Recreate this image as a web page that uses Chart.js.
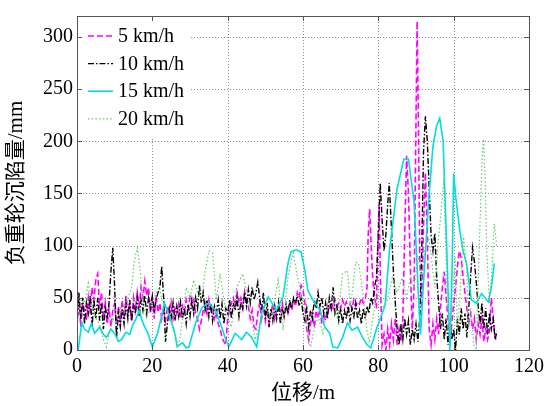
<!DOCTYPE html>
<html>
<head>
<meta charset="utf-8">
<script src="https://cdn.jsdelivr.net/npm/chart.js@4/dist/chart.umd.min.js"></script>
<style>
html,body{margin:0;padding:0;background:#fff;}
canvas{display:block;}
</style>
</head>
<body>
<canvas id="c" width="549" height="406"></canvas>
<script>
// ---- Data (displacement in m, sinkage in mm) ----
const seriesNames = ['5 km/h', '10 km/h', '15 km/h', '20 km/h'];
const xTicks = [0, 20, 40, 60, 80, 100, 120];
const yTicks = [0, 50, 100, 150, 200, 250, 300];

const x5 = [0,0.5,1,1.5,2,2.5,3,3.5,4,4.5,5,5.5,6,6.5,7,7.5,8,8.5,9,9.5,
10,10.5,11,11.5,12,12.5,13,13.5,14,14.5,15,15.5,16,16.5,17,17.5,18,18.5,19,19.5,
20,20.5,21,21.5,22,22.5,23,23.5,24,24.5,25,25.5,26,26.5,27,27.5,28,28.5,29,29.5,
30,30.5,31,31.5,32,32.5,33,33.5,34,34.5,35,35.5,36,36.5,37,37.5,38,38.5,39,39.5,
40,40.5,41,41.5,42,42.5,43,43.5,44,44.5,45,45.5,46,46.5,47,47.5,48,48.5,49,49.5,
50,50.5,51,51.5,52,52.5,53,53.5,54,54.5,55,55.5,56,56.5,57,57.5,58,58.5,59,59.5,
60,60.5,61,61.5,62,62.5,63,63.5,64,64.5,65,65.5,66,66.5,67,67.5,68,68.5,69,69.5,
70,70.5,71,71.5,72,72.5,73,73.5,74,74.5,75,75.5,76,76.5,77,77.3,77.7,78.1,78.5,79,79.5,79.8,80.2,80.6,81,
81.5,82,82.5,83,83.5,84,84.5,85,85.5,86,86.5,87,87.5,88,88.5,89,89.5,90,90.3,90.6,91,91.5,92,92.5,93,93.5,
94,94.5,95,95.5,96,96.5,97,97.5,98,98.5,99,99.5,100,100.5,101,101.5,102,102.5,103,103.5,
104,104.5,105,105.5,106,106.5,107,107.5,108,108.5,109,109.5,110,110.5,111,111.5];
const y5 = [30,52,22,45,38,28,50,35,60,48,68,73,40,55,30,45,25,40,22,38,
45,20,42,28,48,30,52,35,45,28,50,38,55,42,60,50,66,52,60,35,
48,30,52,36,45,30,40,28,42,32,45,30,40,35,44,30,42,36,48,40,
50,42,48,35,30,20,28,38,45,35,48,38,42,30,36,25,20,12,8,5,
30,38,45,50,42,55,45,50,40,56,48,42,30,38,22,20,35,45,30,42,
28,40,25,35,45,30,38,42,35,45,32,40,35,44,38,48,42,55,50,62,
58,45,20,10,25,35,22,38,30,40,25,35,28,42,38,46,40,48,42,45,
40,48,42,46,38,44,40,48,42,46,44,50,45,48,60,110,135,100,70,50,40,90,140,60,5,
15,0,20,5,25,10,30,5,20,8,30,110,186,150,80,20,60,220,315,230,90,40,120,170,110,20,
5,25,10,30,15,40,60,75,50,30,5,25,45,60,80,95,88,70,55,40,
25,35,20,30,10,25,15,30,8,20,10,18,50,30,12,8];

const x10 = [0,0.5,1,1.5,2,2.5,3,3.5,4,4.5,5,5.5,6,6.5,7,7.5,8,8.5,9,9.5,
10,10.5,11,11.5,12,12.5,13,13.5,14,14.5,15,15.5,16,16.5,17,17.5,18,18.5,19,19.5,
20,20.5,21,21.5,22,22.5,23,23.5,24,24.5,25,25.5,26,26.5,27,27.5,28,28.5,29,29.5,
30,30.5,31,31.5,32,32.5,33,33.5,34,34.5,35,35.5,36,36.5,37,37.5,38,38.5,39,39.5,
40,40.5,41,41.5,42,42.5,43,43.5,44,44.5,45,45.5,46,46.5,47,47.5,48,48.5,49,49.5,
50,50.5,51,51.5,52,52.5,53,53.5,54,54.5,55,55.5,56,56.5,57,57.5,58,58.5,59,59.5,
60,60.5,61,61.5,62,62.5,63,63.5,64,64.5,65,65.5,66,66.5,67,67.5,68,68.5,69,69.5,
70,70.5,71,71.5,72,72.5,73,73.5,74,74.5,75,75.5,76,76.5,77,77.5,78,78.5,79,79.5,80,80.5,
81,81.5,82,82.5,82.9,83.5,84,84.5,85,85.5,86,86.5,87,87.5,88,88.5,89,89.5,90,90.5,91,91.5,
92,92.5,93,93.5,94,94.5,95,95.5,96,96.5,97,97.5,98,98.5,99,99.5,100,100.5,
101,101.5,102,102.5,103,103.5,104,104.5,105,105.5,106,106.5,107,107.5,108,108.5,109,109.5,110,110.5,111,111.5];
const y10 = [20,55,30,50,25,45,35,52,22,48,30,50,28,45,20,40,30,45,75,98,
60,12,35,22,40,25,45,30,48,28,42,35,50,32,48,38,52,35,50,40,
52,38,48,55,60,80,50,8,25,40,30,45,28,42,32,46,30,40,25,44,
32,48,35,50,40,62,45,55,38,48,32,45,28,42,35,48,30,44,25,40,
35,48,30,45,38,50,32,46,40,55,42,58,45,60,48,55,65,50,38,55,
30,45,22,40,28,42,30,45,25,40,32,44,35,48,40,50,45,52,42,50,
35,28,40,22,38,30,48,40,55,42,50,35,45,30,50,40,60,35,42,28,
40,25,38,30,42,28,40,32,45,30,38,25,40,30,42,35,50,45,60,70,110,160,
125,95,110,140,160,115,75,45,20,5,25,10,30,15,28,5,20,10,25,8,30,90,
190,224,200,155,110,95,112,70,45,20,35,10,30,5,25,10,20,0,
30,15,40,20,35,12,40,70,98,85,65,42,25,45,20,40,15,35,20,30,10,18];

const x15 = [0.3,1.3,2,3,3.8,4.7,6,7,7.8,9,10,11,11.8,13,14,14.8,15.7,16.5,17.5,18.8,
20,21.4,22.3,23.2,24.5,25.8,26.6,28,29,29.7,31.5,33.2,35,36.8,38.4,39.3,40.3,42,43.7,45,
46.4,47.7,49,50.8,52.9,54.7,56,56.8,58.2,59.5,60.5,61.3,62.6,64.5,65.8,67.1,67.9,69.2,70.5,71.8,
73,74.5,75.8,77,78,79.5,80.5,81.8,83,85,86.8,88,89.5,90.8,91.2,92,93.4,94.5,95.5,96.3,
97.2,98.2,99,99.6,100,100.6,101.6,102.5,103.4,104.7,106,107.4,108.3,109.2,110,110.8];
const y15 = [0,26,20,17,25,16,22,15,12,20,16,8,10,17,15,24,30,38,26,16,
3,16,30,45,33,19,3,7,2,3,26,41,45,38,22,12,3,16,10,17,
12,3,35,51,38,51,83,94,96,94,76,57,48,38,22,16,3,2,12,26,
19,22,12,5,2,20,30,43,97,155,183,183,141,40,15,65,145,195,215,222,
200,93,0,80,169,145,115,95,83,48,45,54,50,46,60,83];

const x20 = [0,1,2,3,4,5,6,7,7.8,8.5,9.5,10.5,11.5,12.5,13.5,14.5,15.2,16,16.8,17.5,
18.5,19.5,20.5,21.8,22.8,23.8,25,26,27,28,29,30,31,32,33,34,35,36,37,38,
39.4,41,42.4,44,45.5,47.3,49,50,51.3,52.3,53.4,54.7,56,57.4,58.7,60,61.3,62,63,64,
65.3,66.6,67.9,69.2,70.5,71.8,72.6,74,74.8,75.8,77,77.6,79,80,81,82.4,83.7,85,86.3,87.5,
88.5,89.5,90.5,91.5,92.5,93.4,94.2,95,95.8,96.6,97.4,97.8,98.3,99,99.7,100.4,101,101.8,102.6,103.4,
104,104.6,105.3,106,106.8,107.5,107.9,108.4,108.8,109.5,110.2,110.8,111.4];
const y20 = [40,50,45,64,45,30,25,10,3,15,30,25,40,35,50,60,85,98,75,45,
30,45,50,60,45,40,25,15,3,30,60,50,67,55,48,75,95,93,48,73,
38,22,60,73,48,10,29,40,30,45,67,19,70,93,67,45,16,3,20,32,
16,45,51,29,73,76,41,84,83,57,19,7,41,55,40,48,69,55,69,50,
70,60,90,70,100,107,85,60,100,130,165,110,45,20,50,90,16,60,110,80,
22,40,5,0,100,180,202,160,93,45,80,121,100];

// ---- Build datasets ----
function pts(xs, ys){ return xs.map((x,i)=>({x:x, y:ys[i]})); }

const FONT = "'Liberation Serif','Noto Sans CJK SC',serif";

const matlabAxes = {
  id: 'matlabAxes',
  beforeDatasetsDraw(chart){
    const ctx = chart.ctx, ca = chart.chartArea;
    const xs = chart.scales.x, ys = chart.scales.y;
    ctx.save();
    ctx.strokeStyle = '#8c8c8c';
    ctx.lineWidth = 1;
    ctx.setLineDash([1, 2]);
    ctx.beginPath();
    xs.ticks.forEach(t=>{
      if (t.value <= xs.min || t.value >= xs.max) return;
      const p = Math.round(xs.getPixelForValue(t.value))+0.5;
      ctx.moveTo(p, ca.bottom); ctx.lineTo(p, ca.top);
    });
    ys.ticks.forEach(t=>{
      if (t.value <= ys.min || t.value >= ys.max) return;
      const p = Math.round(ys.getPixelForValue(t.value))+0.5;
      ctx.moveTo(ca.left, p); ctx.lineTo(ca.right, p);
    });
    ctx.stroke();
    ctx.restore();
  },
  afterDatasetsDraw(chart){
    // legend (MATLAB-style, inside the axes, top-left)
    const ctx = chart.ctx, ca = chart.chartArea;
    const rowH = 27.6, top0 = ca.top + 20;
    const sx0 = ca.left + 11, sx1 = ca.left + 36, tx = ca.left + 41;
    ctx.save();
    ctx.font = '20px ' + FONT;
    let maxW = 0;
    chart.data.datasets.forEach(d=>{ maxW = Math.max(maxW, ctx.measureText(d.label).width); });
    ctx.fillStyle = '#ffffff';
    ctx.fillRect(ca.left + 1, ca.top + 1, tx + maxW + 6 - ca.left, top0 + rowH * (chart.data.datasets.length - 1) + 18 - ca.top);
    chart.data.datasets.forEach((d, i)=>{
      const y = top0 + i * rowH;
      ctx.strokeStyle = d.borderColor;
      ctx.lineWidth = d.borderWidth;
      ctx.setLineDash(d.borderDash || []);
      ctx.beginPath();
      ctx.moveTo(sx0, y); ctx.lineTo(sx1, y);
      ctx.stroke();
      ctx.setLineDash([]);
      ctx.fillStyle = '#000';
      ctx.textBaseline = 'middle';
      ctx.textAlign = 'left';
      ctx.fillText(d.label, tx, y + 1);
    });
    ctx.restore();
  },
  afterDraw(chart){
    const ctx = chart.ctx, ca = chart.chartArea;
    const xs = chart.scales.x, ys = chart.scales.y;
    ctx.save();
    ctx.strokeStyle = '#555555';
    ctx.lineWidth = 1;
    ctx.setLineDash([]);
    ctx.strokeRect(Math.round(ca.left)+0.5, Math.round(ca.top)+0.5, Math.round(ca.right-ca.left), Math.round(ca.bottom-ca.top));
    const L = 5;
    ctx.beginPath();
    xs.ticks.forEach(t=>{
      const p = Math.round(xs.getPixelForValue(t.value))+0.5;
      ctx.moveTo(p, ca.bottom); ctx.lineTo(p, ca.bottom-L);
      ctx.moveTo(p, ca.top); ctx.lineTo(p, ca.top+L);
    });
    ys.ticks.forEach(t=>{
      const p = Math.round(ys.getPixelForValue(t.value))+0.5;
      ctx.moveTo(ca.left, p); ctx.lineTo(ca.left+L, p);
      ctx.moveTo(ca.right, p); ctx.lineTo(ca.right-L, p);
    });
    ctx.stroke();
    ctx.restore();
  }
};

new Chart(document.getElementById('c'), {
  type: 'line',
  data: {
    datasets: [
      { label: seriesNames[0], data: pts(x5, y5), borderColor: '#ff00ff', borderWidth: 1.6, borderDash: [6,3], order: 4 },
      { label: seriesNames[1], data: pts(x10, y10), borderColor: '#000000', borderWidth: 1.4, borderDash: [6,2,1.5,2], order: 3 },
      { label: seriesNames[2], data: pts(x15, y15), borderColor: '#00dede', borderWidth: 1.6, order: 2 },
      { label: seriesNames[3], data: pts(x20, y20), borderColor: '#66cc66', borderWidth: 1.2, borderDash: [1.5,2.2], order: 1 }
    ]
  },
  options: {
    responsive: false,
    devicePixelRatio: 1,
    animation: false,
    events: [],
    elements: { point: { radius: 0 }, line: { tension: 0, fill: false } },
    layout: { padding: { top: 15, right: 16, left: 0, bottom: 0 } },
    font: { family: FONT },
    plugins: {
      tooltip: { enabled: false },
      legend: { display: false }
    },
    scales: {
      x: {
        type: 'linear',
        min: 0, max: 120,
        afterBuildTicks(s){ s.ticks = xTicks.map(v=>({value:v})); },
        afterFit(s){ s.height = 56; },
        grid: { display: false, drawTicks: false },
        border: { display: false },
        ticks: { padding: 5, color: '#000', font: { family: FONT, size: 20 }, maxRotation: 0 },
        title: { display: true, text: '位移/m', color: '#000', padding: 0, font: { family: FONT, size: 21 } }
      },
      y: {
        type: 'linear',
        min: 0, max: 320,
        afterBuildTicks(s){ s.ticks = yTicks.map(v=>({value:v})); },
        afterFit(s){ s.width = 77; },
        grid: { display: false, drawTicks: false },
        border: { display: false },
        ticks: { padding: 4, color: '#000', font: { family: FONT, size: 20 } },
        title: { display: true, text: '负重轮沉陷量/mm', color: '#000', padding: { top: 4, bottom: 0 }, font: { family: FONT, size: 21 } }
      }
    }
  },
  plugins: [matlabAxes]
});
</script>
</body>
</html>
